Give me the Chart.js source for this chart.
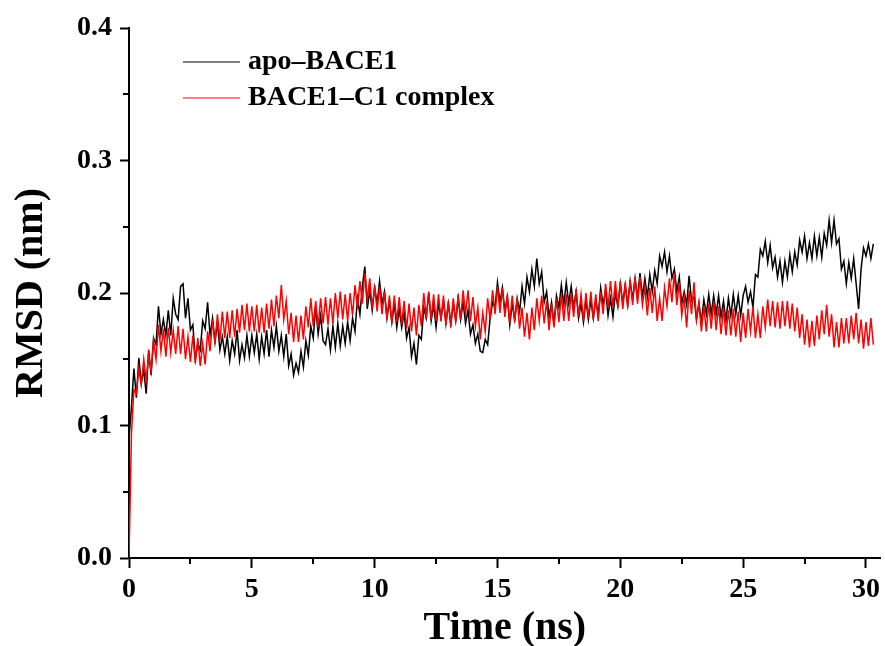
<!DOCTYPE html>
<html>
<head>
<meta charset="utf-8">
<script src="https://cdn.jsdelivr.net/npm/chart.js@4.4.1/dist/chart.umd.min.js"></script>
<style>
  body { margin: 0; background: #fff; }
</style>
</head>
<body>
<canvas id="rmsdChart" width="885" height="646"></canvas>
<script>
// samples every 0.1 ns
const timeStep = 0.1;
const seriesNames = ['apo–BACE1', 'BACE1–C1 complex'];

const apoRmsd = [
  0.090, 0.114, 0.143, 0.121, 0.151, 0.132, 0.142, 0.124, 0.157, 0.138,
  0.166, 0.161, 0.190, 0.169, 0.180, 0.168, 0.187, 0.168, 0.196, 0.184,
  0.180, 0.205, 0.207, 0.181, 0.196, 0.172, 0.176, 0.150, 0.162, 0.157,
  0.179, 0.173, 0.193, 0.168, 0.181, 0.163, 0.178, 0.157, 0.167, 0.154,
  0.167, 0.149, 0.164, 0.154, 0.172, 0.149, 0.161, 0.151, 0.168, 0.152,
  0.168, 0.155, 0.169, 0.150, 0.167, 0.154, 0.172, 0.152, 0.172, 0.159,
  0.175, 0.156, 0.168, 0.152, 0.169, 0.145, 0.154, 0.138, 0.147, 0.140,
  0.156, 0.144, 0.164, 0.153, 0.175, 0.166, 0.190, 0.169, 0.183, 0.164,
  0.161, 0.173, 0.157, 0.175, 0.159, 0.177, 0.160, 0.175, 0.162, 0.178,
  0.164, 0.181, 0.171, 0.196, 0.184, 0.205, 0.220, 0.188, 0.202, 0.187,
  0.204, 0.192, 0.209, 0.192, 0.201, 0.181, 0.194, 0.178, 0.192, 0.174,
  0.188, 0.174, 0.185, 0.166, 0.174, 0.152, 0.162, 0.146, 0.168, 0.165,
  0.189, 0.181, 0.200, 0.179, 0.191, 0.174, 0.192, 0.181, 0.194, 0.177,
  0.192, 0.177, 0.192, 0.179, 0.196, 0.180, 0.193, 0.177, 0.187, 0.169,
  0.176, 0.162, 0.169, 0.156, 0.155, 0.165, 0.161, 0.181, 0.193, 0.189,
  0.208, 0.193, 0.204, 0.186, 0.197, 0.176, 0.192, 0.180, 0.196, 0.186,
  0.205, 0.192, 0.212, 0.201, 0.218, 0.205, 0.226, 0.207, 0.216, 0.193,
  0.201, 0.182, 0.193, 0.176, 0.198, 0.189, 0.206, 0.191, 0.208, 0.192,
  0.205, 0.189, 0.201, 0.181, 0.192, 0.178, 0.195, 0.180, 0.195, 0.181,
  0.195, 0.183, 0.204, 0.191, 0.202, 0.183, 0.196, 0.182, 0.200, 0.190,
  0.207, 0.192, 0.206, 0.191, 0.209, 0.195, 0.211, 0.196, 0.215, 0.197,
  0.211, 0.197, 0.214, 0.201, 0.217, 0.207, 0.228, 0.220, 0.231, 0.216,
  0.228, 0.211, 0.218, 0.201, 0.212, 0.192, 0.201, 0.191, 0.213, 0.194,
  0.197, 0.180, 0.192, 0.178, 0.195, 0.184, 0.199, 0.184, 0.198, 0.184,
  0.198, 0.182, 0.194, 0.179, 0.196, 0.183, 0.199, 0.184, 0.198, 0.183,
  0.198, 0.205, 0.193, 0.201, 0.189, 0.214, 0.212, 0.233, 0.228, 0.239,
  0.223, 0.236, 0.219, 0.227, 0.212, 0.224, 0.208, 0.224, 0.212, 0.229,
  0.216, 0.231, 0.221, 0.240, 0.231, 0.243, 0.226, 0.238, 0.226, 0.243,
  0.228, 0.242, 0.227, 0.245, 0.236, 0.255, 0.238, 0.255, 0.237, 0.241,
  0.218, 0.224, 0.207, 0.223, 0.211, 0.226, 0.207, 0.188, 0.218, 0.234,
  0.228, 0.237, 0.226, 0.237
];

const complexRmsd = [
  0.000, 0.094, 0.127, 0.124, 0.143, 0.131, 0.150, 0.134, 0.154, 0.141,
  0.164, 0.150, 0.176, 0.156, 0.173, 0.152, 0.174, 0.155, 0.172, 0.154,
  0.175, 0.154, 0.173, 0.150, 0.167, 0.148, 0.168, 0.147, 0.166, 0.145,
  0.162, 0.146, 0.171, 0.156, 0.180, 0.162, 0.184, 0.164, 0.186, 0.166,
  0.186, 0.166, 0.187, 0.167, 0.188, 0.170, 0.191, 0.172, 0.192, 0.171,
  0.190, 0.171, 0.191, 0.170, 0.189, 0.170, 0.192, 0.173, 0.195, 0.175,
  0.198, 0.181, 0.206, 0.180, 0.194, 0.169, 0.185, 0.163, 0.183, 0.163,
  0.183, 0.165, 0.190, 0.174, 0.196, 0.175, 0.194, 0.174, 0.196, 0.177,
  0.197, 0.176, 0.196, 0.177, 0.200, 0.181, 0.201, 0.180, 0.199, 0.179,
  0.200, 0.183, 0.206, 0.188, 0.209, 0.192, 0.215, 0.195, 0.211, 0.188,
  0.206, 0.186, 0.205, 0.184, 0.201, 0.180, 0.198, 0.177, 0.198, 0.178,
  0.197, 0.176, 0.194, 0.173, 0.192, 0.171, 0.189, 0.168, 0.191, 0.175,
  0.200, 0.181, 0.201, 0.180, 0.199, 0.179, 0.199, 0.179, 0.198, 0.176,
  0.194, 0.174, 0.196, 0.178, 0.199, 0.180, 0.202, 0.184, 0.202, 0.179,
  0.197, 0.175, 0.189, 0.165, 0.185, 0.171, 0.196, 0.180, 0.202, 0.184,
  0.205, 0.185, 0.204, 0.182, 0.199, 0.177, 0.198, 0.178, 0.196, 0.173,
  0.189, 0.167, 0.185, 0.165, 0.189, 0.172, 0.196, 0.179, 0.198, 0.177,
  0.194, 0.172, 0.192, 0.174, 0.196, 0.178, 0.199, 0.179, 0.199, 0.179,
  0.200, 0.182, 0.203, 0.182, 0.199, 0.179, 0.200, 0.181, 0.201, 0.180,
  0.199, 0.179, 0.201, 0.184, 0.207, 0.189, 0.209, 0.189, 0.209, 0.189,
  0.209, 0.188, 0.208, 0.189, 0.210, 0.191, 0.212, 0.192, 0.212, 0.191,
  0.205, 0.183, 0.204, 0.185, 0.205, 0.179, 0.196, 0.179, 0.204, 0.190,
  0.211, 0.193, 0.215, 0.191, 0.208, 0.183, 0.197, 0.174, 0.202, 0.184,
  0.208, 0.180, 0.193, 0.171, 0.190, 0.171, 0.192, 0.173, 0.194, 0.172,
  0.190, 0.169, 0.189, 0.168, 0.187, 0.168, 0.188, 0.167, 0.186, 0.163,
  0.185, 0.166, 0.188, 0.171, 0.190, 0.166, 0.184, 0.166, 0.190, 0.174,
  0.195, 0.175, 0.194, 0.174, 0.193, 0.173, 0.194, 0.175, 0.194, 0.173,
  0.192, 0.171, 0.189, 0.166, 0.184, 0.161, 0.180, 0.159, 0.179, 0.160,
  0.183, 0.165, 0.187, 0.169, 0.191, 0.167, 0.184, 0.159, 0.178, 0.159,
  0.181, 0.162, 0.181, 0.162, 0.183, 0.165, 0.185, 0.162, 0.180, 0.158,
  0.178, 0.160, 0.181, 0.161
];

const xMajorTicks = [0, 5, 10, 15, 20, 25, 30];
const xMinorTicks = [2.5, 7.5, 12.5, 17.5, 22.5, 27.5];
const yMajorTicks = [0, 0.1, 0.2, 0.3, 0.4];
const yMinorTicks = [0.05, 0.15, 0.25, 0.35];

const serif = '"Liberation Serif", "Times New Roman", serif';

const toPoints = values => values.map((v, i) => ({ x: i * timeStep, y: v }));

// short minor ticks between the labelled ones
const minorTicks = {
  id: 'minorTicks',
  afterDraw(chart) {
    const { ctx, scales } = chart;
    ctx.save();
    ctx.strokeStyle = '#000';
    ctx.lineWidth = 2;
    ctx.beginPath();
    xMinorTicks.forEach(v => {
      const px = Math.round(scales.x.getPixelForValue(v));
      ctx.moveTo(px, scales.x.top);
      ctx.lineTo(px, scales.x.top + 6);
    });
    yMinorTicks.forEach(v => {
      const py = Math.round(scales.y.getPixelForValue(v));
      ctx.moveTo(scales.y.right, py);
      ctx.lineTo(scales.y.right - 6, py);
    });
    ctx.stroke();
    ctx.restore();
  }
};

// legend sits inside the plot, top left
const innerLegend = {
  id: 'innerLegend',
  afterDraw(chart) {
    const { ctx, chartArea } = chart;
    ctx.save();
    ctx.font = 'bold 28px ' + serif;
    ctx.textBaseline = 'middle';
    chart.data.datasets.forEach((ds, i) => {
      const x0 = chartArea.left + 54;
      const y0 = chartArea.top + 34 + i * 36;
      ctx.strokeStyle = ds.borderColor;
      ctx.lineWidth = 1;
      ctx.beginPath();
      ctx.moveTo(x0, y0);
      ctx.lineTo(x0 + 57, y0);
      ctx.stroke();
      ctx.fillStyle = '#000';
      ctx.fillText(ds.label, x0 + 65, y0);
    });
    ctx.restore();
  }
};

const ctx = document.getElementById('rmsdChart').getContext('2d');
new Chart(ctx, {
  type: 'line',
  data: {
    datasets: [
      {
        label: seriesNames[0],
        data: toPoints(apoRmsd),
        borderColor: '#000000',
        borderWidth: 1.5,
        pointRadius: 0,
        tension: 0,
        order: 1
      },
      {
        label: seriesNames[1],
        data: toPoints(complexRmsd),
        borderColor: '#ff0000',
        borderWidth: 1.5,
        pointRadius: 0,
        tension: 0,
        order: 0
      }
    ]
  },
  options: {
    responsive: false,
    animation: false,
    layout: { padding: { top: 28, right: 1, left: 0, bottom: 0 } },
    plugins: {
      legend: { display: false },
      tooltip: { enabled: false }
    },
    scales: {
      x: {
        type: 'linear',
        min: 0,
        max: 30.6,
        afterFit: s => { s.height = 88; },
        afterBuildTicks: s => { s.ticks = xMajorTicks.map(v => ({ value: v })); },
        border: { color: '#000', width: 2 },
        grid: { drawOnChartArea: false, tickLength: 10, tickWidth: 2, tickColor: '#000' },
        ticks: {
          autoSkip: false,
          maxRotation: 0,
          padding: 5,
          color: '#000',
          font: { family: serif, size: 28, weight: 'bold' },
          callback: v => String(v)
        },
        title: {
          display: true,
          text: 'Time (ns)',
          color: '#000',
          padding: 0,
          font: { family: serif, size: 40, weight: 'bold', lineHeight: 0.85 }
        }
      },
      y: {
        min: 0,
        max: 0.4,
        afterFit: s => { s.width = 129; },
        afterBuildTicks: s => { s.ticks = yMajorTicks.map(v => ({ value: v })); },
        border: { color: '#000', width: 2 },
        grid: { drawOnChartArea: false, tickLength: 9, tickWidth: 2, tickColor: '#000' },
        ticks: {
          autoSkip: false,
          padding: 8,
          color: '#000',
          font: { family: serif, size: 28, weight: 'bold' },
          callback: v => v.toFixed(1)
        },
        title: {
          display: true,
          text: 'RMSD (nm)',
          color: '#000',
          padding: { top: 8, bottom: 0 },
          font: { family: serif, size: 40, weight: 'bold', lineHeight: 1.2 }
        }
      }
    }
  },
  plugins: [minorTicks, innerLegend]
});
</script>
</body>
</html>
